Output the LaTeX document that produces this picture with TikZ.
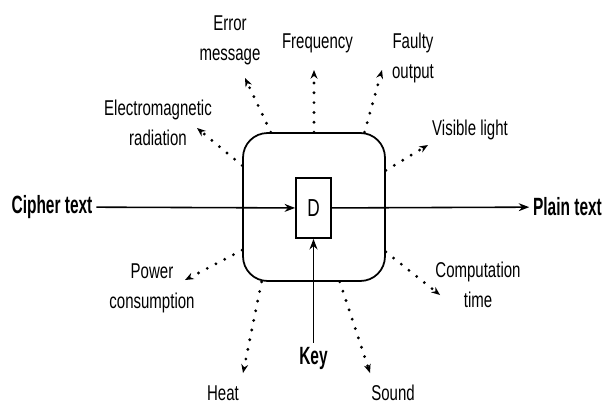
\documentclass[tikz,border=0pt]{standalone}
\usepackage{fontspec}
\usetikzlibrary{arrows.meta}
\newfontfamily\sidefamily[FakeStretch=0.7]{Liberation Sans}
\newfontfamily\endfamily[FakeStretch=0.62]{Liberation Sans}

\tikzset{
    sidetext/.style={font={\sidefamily\fontsize{12.2}{17}\selectfont}, align=center, inner sep=2pt},
    endtext/.style={font={\endfamily\bfseries\fontsize{14.2}{17}\selectfont}, inner sep=2pt},
    device/.style={draw, rounded corners=14pt, minimum width=2.84cm, minimum height=2.96cm, line width=1pt},
    decrypt/.style={draw, minimum width=0.7cm, minimum height=1.2cm, line width=1pt,
        font={\sidefamily\fontsize{14}{14}\selectfont}},
    link/.style={-{Stealth[length=6pt, width=4.5pt]}, line width=0.9pt},
    leak/.style={-{Stealth[length=5pt, width=4pt, line width=0pt]}, line width=1.8pt,
        line cap=round, dash pattern=on 0pt off 5.6pt}
}

\begin{document}
\begin{tikzpicture}[x=0.02cm, y=-0.02cm]
    \useasboundingbox (0,0) rectangle (602,403);
    % device and decryption unit
    \node[device] (dev) at (314,207) {};
    \node[decrypt] (d) at (313.5,208) {D};
    % inputs and output
    \node[endtext] (cipher) at (52,207) {Cipher text};
    \node[endtext] (plain) at (567.5,207) {Plain text};
    \node[endtext] (key) at (313.5,358) {Key};
    \draw[link] (cipher) -- (d);
    \draw[link] (d) -- (plain);
    \draw[link] (key) -- (d);
    % side channels
    \node[sidetext] (err) at (230,40) {Error\\message};
    \node[sidetext] (emr) at (158,123) {Electromagnetic\\radiation};
    \node[sidetext] (freq) at (317.5,43) {Frequency};
    \node[sidetext] (fault) at (413,58) {Faulty\\output};
    \node[sidetext] (vis) at (470,130) {Visible light};
    \node[sidetext] (pow) at (152,288) {Power\\consumption};
    \node[sidetext] (comp) at (478,285) {Computation\\time};
    \node[sidetext] (heat) at (223,393) {Heat};
    \node[sidetext] (sound) at (393,393) {Sound};
    \coordinate (err-tip) at (245,78);
    \coordinate (emr-tip) at (197,128);
    \coordinate (freq-tip) at (314,70);
    \coordinate (fault-tip) at (382,70);
    \coordinate (vis-tip) at (428,145);
    \coordinate (pow-tip) at (185,280);
    \coordinate (comp-tip) at (440,295);
    \coordinate (heat-tip) at (243,373);
    \coordinate (sound-tip) at (370,373);
    \draw[leak] (dev.120) -- (err-tip);
    \draw[leak] (dev.150) -- (emr-tip);
    \draw[leak] (dev.north) -- (freq-tip);
    \draw[leak] (dev.56) -- (fault-tip);
    \draw[leak] (dev.27) -- (vis-tip);
    \draw[leak] (dev.211) -- (pow-tip);
    \draw[leak] (dev.328) -- (comp-tip);
    \draw[leak] (dev.235) -- (heat-tip);
    \draw[leak] (dev.289) -- (sound-tip);
\end{tikzpicture}
\end{document}
